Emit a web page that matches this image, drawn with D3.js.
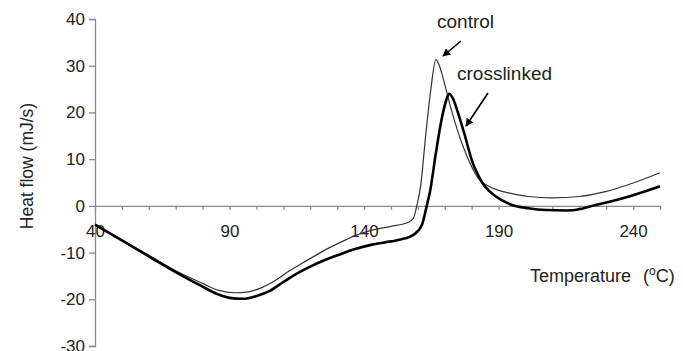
<!DOCTYPE html>
<html>
<head>
<meta charset="utf-8">
<script src="https://cdn.jsdelivr.net/npm/d3@7"></script>
<style>
  body { margin: 0; background: #fff; }
  text { font-family: "Liberation Sans", Arial, sans-serif; }
</style>
</head>
<body>
<div id="chart"></div>
<script>
// Datos (temperatura en ºC, flujo de calor en mJ/s)
const controlT = [40, 50, 60, 70, 80, 86, 92, 97, 102, 107, 112, 117, 122, 127, 132, 137, 143, 150, 156.5, 158.4, 159.6, 161, 163, 164.8, 166.7, 168, 170, 172, 174, 176, 178, 180.5, 183, 186, 190, 195, 201, 210, 220, 230, 240, 250];
const controlH = [-4, -7.3, -10.6, -13.9, -16.6, -18.1, -18.6, -18.4, -17.5, -16.0, -14.0, -12.3, -10.6, -9.0, -7.6, -6.3, -5.2, -4.4, -3.5, -2.6, 0, 4.1, 15.6, 24.8, 31.3, 30, 26, 21.5, 17.5, 14, 11, 7.8, 5.5, 4.3, 3.3, 2.6, 2, 1.7, 2, 3.1, 4.9, 7.1];

const crossT = [40, 50, 60, 70, 80, 86, 90, 95, 100, 105, 110, 115, 120, 125, 131, 137, 143, 150, 155, 158.4, 161.5, 163.3, 164.5, 166.7, 169, 170.5, 171.6, 173, 174.6, 177.2, 180.5, 182.5, 184, 186.5, 189, 195, 201, 207.6, 215, 221, 226, 232, 238.5, 244, 250];
const crossH = [-4, -7.4, -10.8, -14.2, -17.3, -19, -19.7, -19.9, -19.3, -18.2, -16.3, -14.5, -13.0, -11.7, -10.4, -9.2, -8.3, -7.6, -7, -6.2, -4.1, 0, 3, 11.3, 19, 22.5, 24, 23, 20.5, 15.6, 9, 6.5, 4.9, 3.2, 2, 0.2, -0.5, -0.9, -1, -0.6, 0.2, 1, 2, 3, 4.2];

const xTicks = [40, 50, 60, 70, 80, 90, 100, 110, 120, 130, 140, 150, 160, 170, 180, 190, 200, 210, 220, 230, 240, 250];
const xLabels = [40, 90, 140, 190, 240];
const yTicks = [-30, -20, -10, 0, 10, 20, 30, 40];

const width = 683;
const height = 351;
const gris = "#8a8a8a";
const fuente = "'Liberation Sans', Arial, sans-serif";

const svg = d3.select("#chart")
    .append("svg")
    .attr("width", width)
    .attr("height", height);

// Escalas
const x = d3.scaleLinear().domain([40, 250]).range([95, 660]);
const y = d3.scaleLinear().domain([-30, 40]).range([346, 19]);

// Eje Y
const ejeY = svg.append("g")
    .attr("transform", `translate(${x(40)}, 0)`)
    .call(d3.axisLeft(y).tickValues(yTicks).tickSize(6).tickPadding(4).tickFormat(d => String(d)))
    .attr("font-family", fuente);
ejeY.selectAll("line, path").attr("stroke", gris).attr("stroke-width", 1.3);
ejeY.selectAll("text").attr("font-size", 17).attr("fill", "#222");

// Eje X en y = 0
const ejeX = svg.append("g")
    .attr("transform", `translate(0, ${y(0)})`)
    .call(d3.axisBottom(x)
        .tickValues(xTicks)
        .tickSize(4)
        .tickPadding(15)
        .tickSizeOuter(0)
        .tickFormat(d => xLabels.includes(d) ? String(d) : ""))
    .attr("font-family", fuente);
ejeX.selectAll("line, path").attr("stroke", gris).attr("stroke-width", 1.3);
ejeX.selectAll("text").attr("font-size", 17).attr("fill", "#222");

// Curvas
const linea = d3.line()
    .x(d => x(d[0]))
    .y(d => y(d[1]))
    .curve(d3.curveMonotoneX);

svg.append("path")
    .datum(controlT.map((t, i) => [t, controlH[i]]))
    .attr("d", linea)
    .attr("fill", "none")
    .attr("stroke", "#333")
    .attr("stroke-width", 1.2);

svg.append("path")
    .datum(crossT.map((t, i) => [t, crossH[i]]))
    .attr("d", linea)
    .attr("fill", "none")
    .attr("stroke", "#000")
    .attr("stroke-width", 2.6);

// Titulos de ejes
svg.append("text")
    .attr("transform", "translate(33, 166) rotate(-90)")
    .attr("text-anchor", "middle")
    .attr("font-size", 17.5)
    .attr("fill", "#222")
    .text("Heat flow (mJ/s)");

const tituloX = svg.append("text")
    .attr("x", 530)
    .attr("y", 282)
    .attr("font-size", 18)
    .attr("fill", "#222");
tituloX.append("tspan").text("Temperature");
tituloX.append("tspan").attr("dx", 12).text("(");
tituloX.append("tspan").attr("dy", -7).attr("font-size", 12).text("o");
tituloX.append("tspan").attr("dy", 7).text("C)");

// Flechas y etiquetas
svg.append("defs").append("marker")
    .attr("id", "punta")
    .attr("viewBox", "0 0 10 10")
    .attr("refX", 9)
    .attr("refY", 5)
    .attr("markerWidth", 8)
    .attr("markerHeight", 8)
    .attr("markerUnits", "userSpaceOnUse")
    .attr("orient", "auto")
    .append("path")
    .attr("d", "M0,0 L10,5 L0,10 Z")
    .attr("fill", "#000");

const anotaciones = [
    { texto: "control", tx: 437, ty: 28, x1: 461, y1: 41, x2: 443, y2: 56 },
    { texto: "crosslinked", tx: 457, ty: 80, x1: 488, y1: 93, x2: 466, y2: 126 }
];

anotaciones.forEach(a => {
    svg.append("text")
        .attr("x", a.tx)
        .attr("y", a.ty)
        .attr("font-family", "'Open Sans', sans-serif")
        .attr("font-size", 19)
        .attr("fill", "#222")
        .text(a.texto);

    svg.append("line")
        .attr("x1", a.x1)
        .attr("y1", a.y1)
        .attr("x2", a.x2)
        .attr("y2", a.y2)
        .attr("stroke", "#000")
        .attr("stroke-width", 1.6)
        .attr("marker-end", "url(#punta)");
});
</script>
</body>
</html>
